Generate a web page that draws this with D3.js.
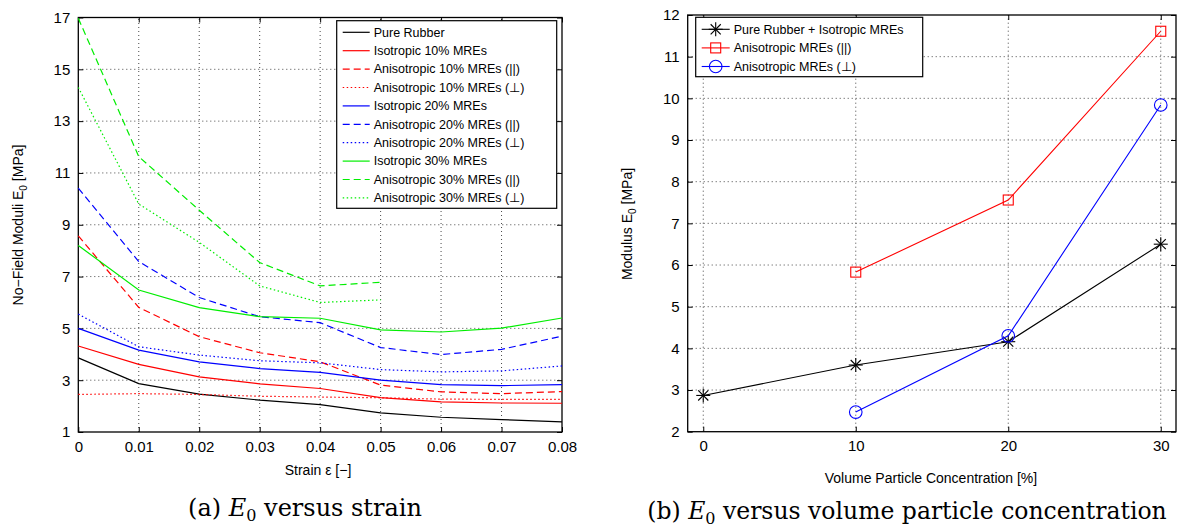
<!DOCTYPE html>
<html>
<head>
<meta charset="utf-8">
<script src="https://cdn.jsdelivr.net/npm/d3@7"></script>
<style>
  body { margin: 0; background: #fff; }
  text { font-family: "Liberation Sans", Arial, sans-serif; }
  text.cap { font-family: "DejaVu Serif", "Liberation Serif", serif; }
</style>
</head>
<body>
<svg id="chart" width="1184" height="531"></svg>
<script>
// ---- data (a): E0 versus strain ----
const strain = [0, 0.01, 0.02, 0.03, 0.04, 0.05, 0.06, 0.07, 0.08];
const pureRubber   = [3.86, 2.87, 2.46, 2.23, 2.06, 1.74, 1.57, 1.48, 1.39];
const iso10        = [4.32, 3.61, 3.13, 2.86, 2.68, 2.33, 2.16, 2.12, 2.11];
const aniso10Par   = [8.57, 5.81, 4.68, 4.06, 3.71, 2.81, 2.55, 2.48, 2.56];
const aniso10Perp  = [2.45, 2.48, 2.45, 2.38, 2.35, 2.32, 2.27, 2.26, 2.26];
const iso20        = [5.00, 4.16, 3.71, 3.45, 3.30, 3.00, 2.83, 2.79, 2.83];
const aniso20Par   = [10.41, 7.58, 6.19, 5.45, 5.22, 4.26, 3.99, 4.19, 4.70];
const aniso20Perp  = [5.55, 4.29, 3.97, 3.75, 3.67, 3.41, 3.32, 3.36, 3.55];
const iso30        = [8.20, 6.48, 5.80, 5.45, 5.39, 4.94, 4.86, 5.01, 5.40];
const aniso30Par   = [16.97, 11.63, 9.56, 7.54, 6.64, 6.78];
const aniso30Perp  = [14.30, 9.80, 8.32, 6.64, 6.00, 6.10];
const strainTicks  = [0, 0.01, 0.02, 0.03, 0.04, 0.05, 0.06, 0.07, 0.08];
const moduliTicks  = [1, 3, 5, 7, 9, 11, 13, 15, 17];

// ---- data (b): E0 versus volume particle concentration ----
const concentration = [0, 10, 20, 30];
const rubberIso     = [2.87, 3.60, 4.16, 6.50];
const anisoConc     = [10, 20, 30];
const anisoPar      = [5.83, 7.56, 11.61];
const anisoPerp     = [2.47, 4.30, 9.84];
const concTicks     = [0, 10, 20, 30];
const modulusTicks  = [2, 3, 4, 5, 6, 7, 8, 9, 10, 11, 12];

const svg = d3.select("#chart");
svg.append("rect").attr("width", 1184).attr("height", 531).attr("fill", "#fff");

const dashes = { solid: null, dashed: "7,4", dotted: "1.5,2.5" };

// draw a boxed plot with MATLAB style grid and inside ticks
function frame(g, x, y, xTicks, yTicks, xFmt) {
  const [x0, x1] = x.range();
  const [y0, y1] = y.range(); // y0 bottom, y1 top

  // grid
  g.append("g").selectAll("line").data(xTicks.filter(t => x(t) > x0 + 1 && x(t) < x1 - 1)).join("line")
    .attr("x1", d => x(d)).attr("x2", d => x(d)).attr("y1", y0).attr("y2", y1)
    .attr("stroke", "#333").attr("stroke-width", 0.9).attr("stroke-dasharray", "1,3");
  g.append("g").selectAll("line").data(yTicks.filter(t => y(t) < y0 - 1 && y(t) > y1 + 1)).join("line")
    .attr("x1", x0).attr("x2", x1).attr("y1", d => y(d)).attr("y2", d => y(d))
    .attr("stroke", "#333").attr("stroke-width", 0.9).attr("stroke-dasharray", "1,3");

  // axes with ticks pointing inward
  g.append("g").attr("transform", `translate(0,${y0})`)
    .call(d3.axisBottom(x).tickValues(xTicks).tickSize(-5).tickPadding(9).tickFormat(xFmt))
    .call(a => a.select(".domain").remove());
  g.append("g").attr("transform", `translate(0,${y1})`)
    .call(d3.axisTop(x).tickValues(xTicks).tickSize(-5).tickFormat(""))
    .call(a => a.select(".domain").remove());
  g.append("g").attr("transform", `translate(${x0},0)`)
    .call(d3.axisLeft(y).tickValues(yTicks).tickSize(-5).tickPadding(8))
    .call(a => a.select(".domain").remove());
  g.append("g").attr("transform", `translate(${x1},0)`)
    .call(d3.axisRight(y).tickValues(yTicks).tickSize(-5).tickFormat(""))
    .call(a => a.select(".domain").remove());
  g.selectAll(".tick text").attr("font-size", 15).attr("fill", "#000");
  g.selectAll(".tick line").attr("stroke", "#000");

  g.append("rect").attr("x", x0).attr("y", y1).attr("width", x1 - x0).attr("height", y0 - y1)
    .attr("fill", "none").attr("stroke", "#000").attr("stroke-width", 1.3);
}

// ================= (a) =================
const xA = d3.scaleLinear().domain([0, 0.08]).range([78.3, 562]);
const yA = d3.scaleLinear().domain([1, 17]).range([432, 17.5]);
const gA = svg.append("g");
frame(gA, xA, yA, strainTicks, moduliTicks, d => d === 0 ? "0" : d3.format(".2f")(d));

const seriesA = [
  { name: "Pure Rubber", values: pureRubber, color: "#000", style: "solid" },
  { name: "Isotropic 10% MREs", values: iso10, color: "#ff0000", style: "solid" },
  { name: "Anisotropic 10% MREs (||)", values: aniso10Par, color: "#ff0000", style: "dashed" },
  { name: "Anisotropic 10% MREs (\u22a5)", values: aniso10Perp, color: "#ff0000", style: "dotted" },
  { name: "Isotropic 20% MREs", values: iso20, color: "#0000ff", style: "solid" },
  { name: "Anisotropic 20% MREs (||)", values: aniso20Par, color: "#0000ff", style: "dashed" },
  { name: "Anisotropic 20% MREs (\u22a5)", values: aniso20Perp, color: "#0000ff", style: "dotted" },
  { name: "Isotropic 30% MREs", values: iso30, color: "#00ee00", style: "solid" },
  { name: "Anisotropic 30% MREs (||)", values: aniso30Par, color: "#00ee00", style: "dashed" },
  { name: "Anisotropic 30% MREs (\u22a5)", values: aniso30Perp, color: "#00ee00", style: "dotted" }
];

const lineA = d3.line().x((d, i) => xA(strain[i])).y(d => yA(d));
gA.append("g").selectAll("path").data(seriesA).join("path")
  .attr("d", d => lineA(d.values))
  .attr("fill", "none")
  .attr("stroke", d => d.color)
  .attr("stroke-width", 1.2)
  .attr("stroke-dasharray", d => dashes[d.style]);

// legend (a)
const legA = gA.append("g").attr("transform", "translate(336.7,20.7)");
legA.append("rect").attr("width", 220).attr("height", 187.6)
  .attr("fill", "#fff").attr("stroke", "#000").attr("stroke-width", 1.2);
const rowA = legA.selectAll("g.row").data(seriesA).join("g").attr("class", "row")
  .attr("transform", (d, i) => `translate(0,${11.6 + i * 18.4})`);
rowA.append("line").attr("x1", 6).attr("x2", 33)
  .attr("stroke", d => d.color).attr("stroke-width", 1.2)
  .attr("stroke-dasharray", d => dashes[d.style]);
rowA.append("text").attr("x", 37).attr("dy", "0.35em").attr("font-size", 12.5)
  .text(d => d.name);

// axis labels (a)
gA.append("text").attr("x", 318).attr("y", 475).attr("text-anchor", "middle")
  .attr("font-size", 14).text("Strain \u03b5 [\u2212]");
const ylA = gA.append("text").attr("transform", "translate(23,225) rotate(-90)")
  .attr("text-anchor", "middle").attr("font-size", 14);
ylA.append("tspan").text("No\u2212Field Moduli E");
ylA.append("tspan").attr("dy", 4).attr("font-size", 10).text("0");
ylA.append("tspan").attr("dy", -4).text(" [MPa]");

// caption (a)
const capA = svg.append("text").attr("class", "cap").attr("x", 305).attr("y", 516)
  .attr("text-anchor", "middle").attr("font-size", 24);
capA.append("tspan").text("(a) ");
capA.append("tspan").attr("font-style", "italic").text("E");
capA.append("tspan").attr("dy", 5).attr("font-size", 16).text("0");
capA.append("tspan").attr("dy", -5).text(" versus strain");

// ================= (b) =================
const xB = d3.scaleLinear().domain([-1.02, 31]).range([687.7, 1176]);
const yB = d3.scaleLinear().domain([2, 12]).range([431.7, 15]);
const gB = svg.append("g");
frame(gB, xB, yB, concTicks, modulusTicks, d => d);

const seriesB = [
  { name: "Pure Rubber + Isotropic MREs", xs: concentration, values: rubberIso, color: "#000", marker: "star" },
  { name: "Anisotropic MREs (||)", xs: anisoConc, values: anisoPar, color: "#ff0000", marker: "square" },
  { name: "Anisotropic MREs (\u22a5)", xs: anisoConc, values: anisoPerp, color: "#0000ff", marker: "circle" }
];

function drawMarker(sel, type, color) {
  if (type === "star") {
    const r = 7;
    [[-r, 0, r, 0], [0, -r, 0, r], [-r * 0.72, -r * 0.72, r * 0.72, r * 0.72], [-r * 0.72, r * 0.72, r * 0.72, -r * 0.72]]
      .forEach(c => sel.append("line").attr("x1", c[0]).attr("y1", c[1]).attr("x2", c[2]).attr("y2", c[3])
        .attr("stroke", color).attr("stroke-width", 1.1));
  } else if (type === "square") {
    sel.append("rect").attr("x", -5).attr("y", -5).attr("width", 10).attr("height", 10)
      .attr("fill", "none").attr("stroke", color).attr("stroke-width", 1.1);
  } else {
    sel.append("circle").attr("r", 6.3).attr("fill", "none").attr("stroke", color).attr("stroke-width", 1.1);
  }
}

seriesB.forEach(s => {
  const line = d3.line().x((d, i) => xB(s.xs[i])).y(d => yB(d));
  gB.append("path").attr("d", line(s.values)).attr("fill", "none")
    .attr("stroke", s.color).attr("stroke-width", 1.1);
  s.values.forEach((v, i) => {
    drawMarker(gB.append("g").attr("transform", `translate(${xB(s.xs[i])},${yB(v)})`), s.marker, s.color);
  });
});

// legend (b)
const legB = gB.append("g").attr("transform", "translate(695.7,17.3)");
legB.append("rect").attr("width", 227).attr("height", 59.4)
  .attr("fill", "#fff").attr("stroke", "#000").attr("stroke-width", 1.2);
seriesB.forEach((s, i) => {
  const row = legB.append("g").attr("transform", `translate(0,${12 + i * 18.6})`);
  row.append("line").attr("x1", 6).attr("x2", 34).attr("stroke", s.color).attr("stroke-width", 1.1);
  drawMarker(row.append("g").attr("transform", "translate(20,0)"), s.marker, s.color);
  row.append("text").attr("x", 38).attr("dy", "0.35em").attr("font-size", 12.5).text(s.name);
});

// axis labels (b)
gB.append("text").attr("x", 931).attr("y", 483).attr("text-anchor", "middle")
  .attr("font-size", 14).text("Volume Particle Concentration [%]");
const ylB = gB.append("text").attr("transform", "translate(632,224) rotate(-90)")
  .attr("text-anchor", "middle").attr("font-size", 14);
ylB.append("tspan").text("Modulus E");
ylB.append("tspan").attr("dy", 4).attr("font-size", 10).text("0");
ylB.append("tspan").attr("dy", -4).text(" [MPa]");

// caption (b)
const capB = svg.append("text").attr("class", "cap").attr("x", 907).attr("y", 519)
  .attr("text-anchor", "middle").attr("font-size", 23.5);
capB.append("tspan").text("(b) ");
capB.append("tspan").attr("font-style", "italic").text("E");
capB.append("tspan").attr("dy", 5).attr("font-size", 16).text("0");
capB.append("tspan").attr("dy", -5).text(" versus volume particle concentration");
</script>
</body>
</html>
